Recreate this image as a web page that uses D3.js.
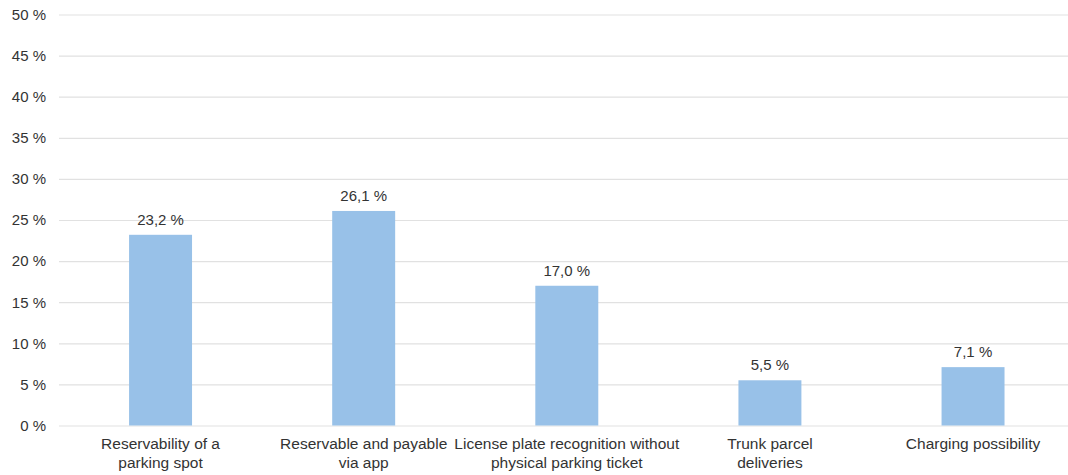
<!DOCTYPE html>
<html>
<head>
<meta charset="utf-8">
<script src="https://cdn.jsdelivr.net/npm/d3@7"></script>
<style>
  html, body { margin: 0; padding: 0; background: #fff; }
  svg text { font-family: "Liberation Sans", Arial, sans-serif; fill: #333; }
</style>
</head>
<body>
<svg id="chart" width="1068" height="475"></svg>
<script>
// Share of respondents per parking feature
const categories = [
  ["Reservability of a", "parking spot"],
  ["Reservable and payable", "via app"],
  ["License plate recognition without", "physical parking ticket"],
  ["Trunk parcel", "deliveries"],
  ["Charging possibility"]
];
const values = [23.2, 26.1, 17.0, 5.5, 7.1];
const yTicks = [0, 5, 10, 15, 20, 25, 30, 35, 40, 45, 50];

const svg = d3.select("#chart");
const plot = { left: 59, right: 1074.6, top: 14.5, bottom: 425.5 };

const x = d3.scaleBand()
  .domain(d3.range(values.length))
  .range([plot.left, plot.right])
  .paddingInner(0.69)
  .paddingOuter(0.345);

const y = d3.scaleLinear().domain([0, 50]).range([plot.bottom, plot.top]);

const fmt = v => d3.format(".1f")(v).replace(".", ",") + " %";

// Horizontal grid lines with percentage labels
const yAxis = d3.axisLeft(y)
  .tickValues(yTicks)
  .tickSize(-(plot.right - plot.left))
  .tickPadding(13)
  .tickFormat(d => d + " %");

const gy = svg.append("g")
  .attr("transform", `translate(${plot.left},0)`)
  .call(yAxis);
gy.select(".domain").remove();
gy.selectAll(".tick line").attr("stroke", "#e1e1e1").attr("stroke-width", 1.2);
gy.selectAll(".tick text")
  .attr("font-size", 15)
  .attr("fill", "#333")
  .style("font-family", "'Liberation Sans', Arial, sans-serif");

// Bars
svg.append("g").selectAll("rect")
  .data(values)
  .join("rect")
  .attr("x", (d, i) => x(i))
  .attr("width", x.bandwidth())
  .attr("y", d => y(d))
  .attr("height", d => y(0) - y(d))
  .attr("fill", "#98c1e8");

// Value labels
svg.append("g").selectAll("text")
  .data(values)
  .join("text")
  .attr("x", (d, i) => x(i) + x.bandwidth() / 2)
  .attr("y", d => y(d) - 10)
  .attr("text-anchor", "middle")
  .attr("font-size", 15)
  .text(d => fmt(d));

// Category labels (wrapped into lines)
const cat = svg.append("g").selectAll("text")
  .data(categories)
  .join("text")
  .attr("text-anchor", "middle")
  .attr("font-size", 15.5)
  .attr("x", (d, i) => x(i) + x.bandwidth() / 2)
  .attr("y", 449);
cat.selectAll("tspan")
  .data(d => d)
  .join("tspan")
  .attr("x", function () { return d3.select(this.parentNode).attr("x"); })
  .attr("dy", (d, i) => i === 0 ? 0 : 19)
  .text(d => d);
</script>
</body>
</html>
